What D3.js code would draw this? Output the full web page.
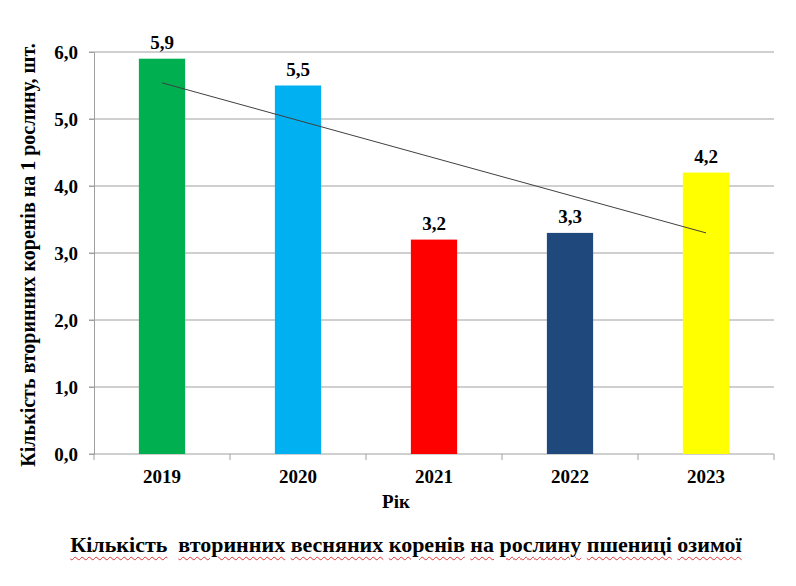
<!DOCTYPE html>
<html>
<head>
<meta charset="utf-8">
<script src="https://cdn.jsdelivr.net/npm/d3@7"></script>
<style>
  body { margin: 0; background: #fff; }
  #chart { position: relative; width: 796px; height: 586px; }
  svg text { font-family: "Liberation Serif", "DejaVu Serif", Times, serif; font-weight: bold; }
  #caption {
    position: absolute; left: 0; top: 532px; width: 812px; text-align: center;
    font-family: "Liberation Serif", "DejaVu Serif", Times, serif; font-weight: bold; font-size: 22px;
    color: #000; white-space: nowrap;
  }
  #caption span {
    text-decoration: underline wavy #e03030; text-decoration-thickness: 1px; text-underline-offset: 4px;
  }
</style>
</head>
<body>
<div id="chart"></div>
<script>
const years = ["2019", "2020", "2021", "2022", "2023"];
const values = [5.9, 5.5, 3.2, 3.3, 4.2];
const colors = ["#00b050", "#00b0f0", "#ff0000", "#1f497d", "#ffff00"];
const yTicks = [0, 1, 2, 3, 4, 5, 6];
const captionWords = ["Кількість", "вторинних", "весняних", "коренів", "на", "рослину", "пшениці", "озимої"];

const width = 796, height = 586;
const margin = { top: 52, right: 22, bottom: 132, left: 94 };

const svg = d3.select("#chart").append("svg")
  .attr("width", width).attr("height", height)
  .style("position", "absolute").style("left", 0).style("top", 0);

const x = d3.scaleBand().domain(years)
  .range([margin.left, width - margin.right])
  .paddingInner(0.66).paddingOuter(0.33);
const y = d3.scaleLinear().domain([0, 6]).range([height - margin.bottom, margin.top]);

// gridlines
svg.append("g").selectAll("line").data(yTicks.slice(1)).join("line")
  .attr("x1", margin.left - 5).attr("x2", width - margin.right)
  .attr("y1", d => y(d)).attr("y2", d => y(d))
  .attr("stroke", "#a0a0a0").attr("stroke-width", 1);

// y axis
const yAxis = svg.append("g").attr("transform", `translate(${margin.left},0)`)
  .call(d3.axisLeft(y).tickValues(yTicks).tickSize(5).tickFormat(d => d3.format(".1f")(d).replace(".", ",")));
yAxis.attr("font-family", null).attr("font-size", null);
yAxis.select(".domain").attr("stroke", "#a0a0a0");
yAxis.selectAll(".tick line").attr("stroke", "#a0a0a0");
yAxis.selectAll("text").style("font-size", "19px").attr("fill", "#000").attr("x", -16).attr("dy", "0.34em");

// x axis with boundary ticks
const step = x.step();
const xBase = svg.append("g").attr("transform", `translate(0,${y(0)})`);
xBase.append("line").attr("x1", margin.left - 5).attr("x2", width - margin.right)
  .attr("stroke", "#a0a0a0");
xBase.selectAll(".bt").data(d3.range(years.length + 1)).join("line")
  .attr("x1", i => margin.left + i * step).attr("x2", i => margin.left + i * step)
  .attr("y1", 0).attr("y2", 6).attr("stroke", "#a0a0a0");
xBase.selectAll("text").data(years).join("text")
  .attr("x", d => x(d) + x.bandwidth() / 2).attr("y", 29)
  .attr("text-anchor", "middle").style("font-size", "19px").text(d => d);

// bars
svg.append("g").selectAll("rect").data(years).join("rect")
  .attr("x", d => x(d)).attr("width", x.bandwidth())
  .attr("y", (d, i) => y(values[i])).attr("height", (d, i) => y(0) - y(values[i]))
  .attr("fill", (d, i) => colors[i]);

// value labels
svg.append("g").selectAll("text").data(years).join("text")
  .attr("x", d => x(d) + x.bandwidth() / 2).attr("y", (d, i) => y(values[i]) - 10)
  .attr("text-anchor", "middle").style("font-size", "19px")
  .text((d, i) => String(values[i]).replace(".", ","));

// linear trend
const n = values.length;
const xs = d3.range(1, n + 1);
const mx = d3.mean(xs), my = d3.mean(values);
const slope = d3.sum(xs, (v, i) => (v - mx) * (values[i] - my)) / d3.sum(xs, v => (v - mx) ** 2);
const icpt = my - slope * mx;
svg.append("line")
  .attr("x1", x(years[0]) + x.bandwidth() / 2).attr("y1", y(icpt + slope * 1))
  .attr("x2", x(years[n - 1]) + x.bandwidth() / 2).attr("y2", y(icpt + slope * n))
  .attr("stroke", "#404040").attr("stroke-width", 1);

// axis titles
svg.append("text").attr("transform", `translate(35,255) rotate(-90)`)
  .attr("text-anchor", "middle").style("font-size", "20px")
  .text("Кількість вторинних коренів на 1 рослину, шт.");
svg.append("text").attr("x", 396).attr("y", 508)
  .attr("text-anchor", "middle").style("font-size", "19px").text("Рік");

// caption
const cap = d3.select("#chart").append("div").attr("id", "caption");
captionWords.forEach((w, i) => {
  cap.append("span").text(w);
  if (i < captionWords.length - 1) cap.append("text").text(i === 0 ? "\u00a0 " : " ");
});
</script>
</body>
</html>
